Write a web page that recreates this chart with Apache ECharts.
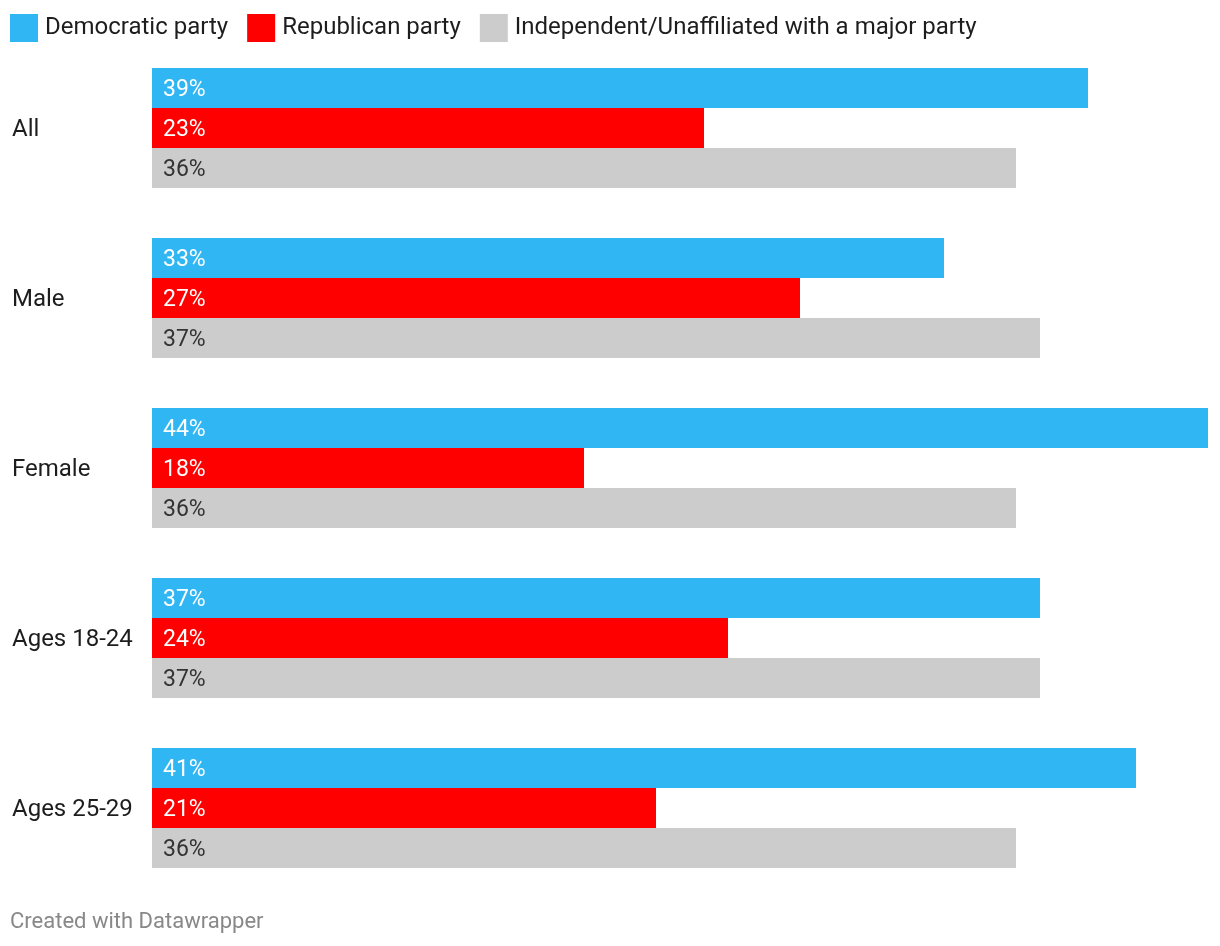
<!DOCTYPE html>
<html>
<head>
<meta charset="utf-8">
<script src="https://cdn.jsdelivr.net/npm/echarts@6/dist/echarts.min.js"></script>
<style>
html,body{margin:0;padding:0;background:#fff;}
#chart{width:1220px;height:946px;}
</style>
</head>
<body>
<div id="chart"></div>
<script>
const categories = ['All', 'Male', 'Female', 'Ages 18-24', 'Ages 25-29'];
const seriesNames = ['Democratic party', 'Republican party', 'Independent/Unaffiliated with a major party'];
const democratic = [39, 33, 44, 37, 41];
const republican = [23, 27, 18, 24, 21];
const independent = [36, 37, 36, 37, 36];
const colors = ['#31b6f4', '#ff0000', '#cccccc'];
const labelColors = ['#ffffff', '#ffffff', '#333333'];
const footer = 'Created with Datawrapper';

const font = 'Roboto, "Noto Sans", sans-serif';
const chart = echarts.init(document.getElementById('chart'));
const values = [democratic, republican, independent];

chart.setOption({
  animation: false,
  backgroundColor: '#ffffff',
  textStyle: { fontFamily: font },
  legend: {
    left: 10, top: 14, padding: 0,
    itemWidth: 28, itemHeight: 28, itemGap: 19,
    icon: 'rect',
    textStyle: { fontSize: 24, color: '#1d1d1d', fontFamily: font, padding: [2, 0, 0, 2] },
    data: seriesNames
  },
  grid: { left: 152, top: 43, width: 1056, height: 850, containLabel: false },
  xAxis: { type: 'value', min: 0, max: 44, show: false },
  yAxis: {
    type: 'category', data: categories, inverse: true,
    axisLine: { show: false }, axisTick: { show: false }, splitLine: { show: false },
    axisLabel: {
      align: 'left', margin: 140, fontSize: 24, color: '#1d1d1d', fontFamily: font,
      formatter: '{a|{value}}',
      rich: { a: { fontSize: 24, color: '#1d1d1d', fontFamily: font, padding: [4, 0, 0, 0] } }
    }
  },
  graphic: [{
    type: 'text', left: 10, top: 911,
    style: { text: footer, fontSize: 22, fill: '#888888', fontFamily: font }
  }],
  series: seriesNames.map((name, i) => ({
    name, type: 'bar', data: values[i], barWidth: 40, barGap: '0%',
    itemStyle: { color: colors[i] },
    label: {
      show: true, position: 'insideLeft', distance: 11, offset: [0, 2],
      formatter: '{c}%', fontSize: 23, color: labelColors[i], fontFamily: font
    }
  }))
});
</script>
</body>
</html>
